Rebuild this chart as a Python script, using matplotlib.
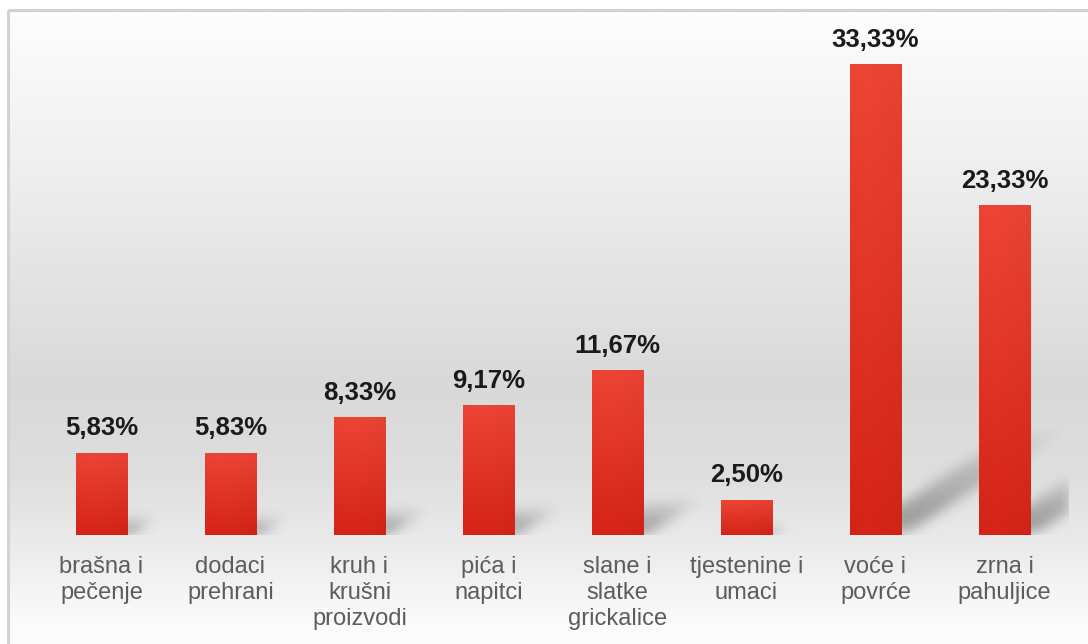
import numpy as np
import matplotlib.pyplot as plt
from matplotlib.patches import Rectangle

plt.rcParams['font.family'] = ['Liberation Sans', 'DejaVu Sans']

categories = ['brašna i\npečenje', 'dodaci\nprehrani', 'kruh i\nkrušni\nproizvodi',
              'pića i\nnapitci', 'slane i\nslatke\ngrickalice', 'tjestenine i\numaci',
              'voće i\npovrće', 'zrna i\npahuljice']
values = [5.83, 5.83, 8.33, 9.17, 11.67, 2.50, 33.33, 23.33]
value_labels = ['5,83%', '5,83%', '8,33%', '9,17%', '11,67%', '2,50%', '33,33%', '23,33%']

W, H = 1088, 644
fig = plt.figure(figsize=(W / 100, H / 100), dpi=100)
fig.patch.set_facecolor('white')

# background gradient (figure level, inside border)
bg = fig.add_axes([0, 0, 1, 1], zorder=-10)
bg.set_xlim(0, W)
bg.set_ylim(H, 0)
bg.axis('off')
ys = np.arange(H)
stops_y = [10, 150, 380, 470, 560, 620, 644]
stops_c = [253, 240, 217, 222, 238, 251, 252]
col = np.interp(ys, stops_y, stops_c) / 255.0
grad = np.repeat(col[:, None], 4, axis=1)
img = np.dstack([grad, grad, grad])
bg.imshow(img, extent=[8, W + 2, H, 10], aspect='auto', interpolation='bilinear')
bg.add_patch(Rectangle((8, 10), W, H, fill=False, edgecolor='#d2d2d2', lw=2.2))

ax = fig.add_axes([37 / W, (H - 535) / H, 1032 / W, 515 / H])
ax.patch.set_alpha(0)
x = np.arange(len(values))
w = 0.4
ax.set_xlim(-0.5, len(values) - 0.5)
ymax = 33.33 * 515 / 471
ax.set_ylim(0, ymax)

# soft diagonal shadows, rasterised and blurred
nx, ny = 1032, 515
X, Y = np.meshgrid(np.linspace(-0.5, len(values) - 0.5, nx), np.linspace(0, ymax, ny))
shadow = np.zeros((ny, nx))
for xi, v in zip(x, values):
    dx, dy = 0.037 * v, 0.22 * v
    t = Y / dy
    inside = (t >= 0) & (t <= 1) & (X >= xi - w / 2 + 0.04 + dx * t) & (X <= xi + w / 2 + 0.03 + dx * t)
    a = 0.48 * np.clip(1 - t, 0, 1) ** 0.8 * np.clip(t * 5 + 0.4, 0, 1)
    shadow = np.maximum(shadow, np.where(inside, a, 0))
k = np.exp(-0.5 * (np.arange(-18, 19) / 6.0) ** 2)
k /= k.sum()
shadow = np.apply_along_axis(lambda r: np.convolve(r, k, mode='same'), 1, shadow)
shadow = np.apply_along_axis(lambda c: np.convolve(c, k, mode='same'), 0, shadow)
rgba = np.zeros((ny, nx, 4))
rgba[..., :3] = 0.22
rgba[..., 3] = shadow
ax.imshow(rgba, extent=[-0.5, len(values) - 0.5, 0, ymax], origin='lower',
          aspect='auto', zorder=1, interpolation='bilinear')

bars = ax.bar(x, values, width=w, color='#e0301f', zorder=2)

# red gradient inside bars
gy = np.linspace(0, 1, 100)[:, None]
gx = np.linspace(0, 1, 20)[None, :]
top = np.array([0.93, 0.27, 0.21])
bot = np.array([0.84, 0.14, 0.09])
rgb = bot[None, None, :] + (top - bot)[None, None, :] * gy[:, :, None]
rgb = rgb * (1 - 0.04 * np.abs(gx - 0.3)[:, :, None])
for b in bars:
    im = ax.imshow(rgb, extent=[b.get_x(), b.get_x() + b.get_width(), 0, b.get_height()],
                   origin='lower', aspect='auto', zorder=3, interpolation='bilinear')
    im.set_clip_path(b)

for xi, v, lab in zip(x, values, value_labels):
    ax.annotate(lab, (xi, v), xytext=(0, 12.5), textcoords='offset points',
                ha='center', va='baseline', fontsize=18.5, fontweight='bold', color='#1a1a1a')

ax.set_xticks(x)
ax.set_xticklabels(categories, fontsize=17, color='#5c5c5c', linespacing=1.25)
ax.tick_params(axis='x', length=0, pad=15)
ax.set_yticks([])
for s in ax.spines.values():
    s.set_visible(False)

fig.savefig('out.png', dpi=100)
